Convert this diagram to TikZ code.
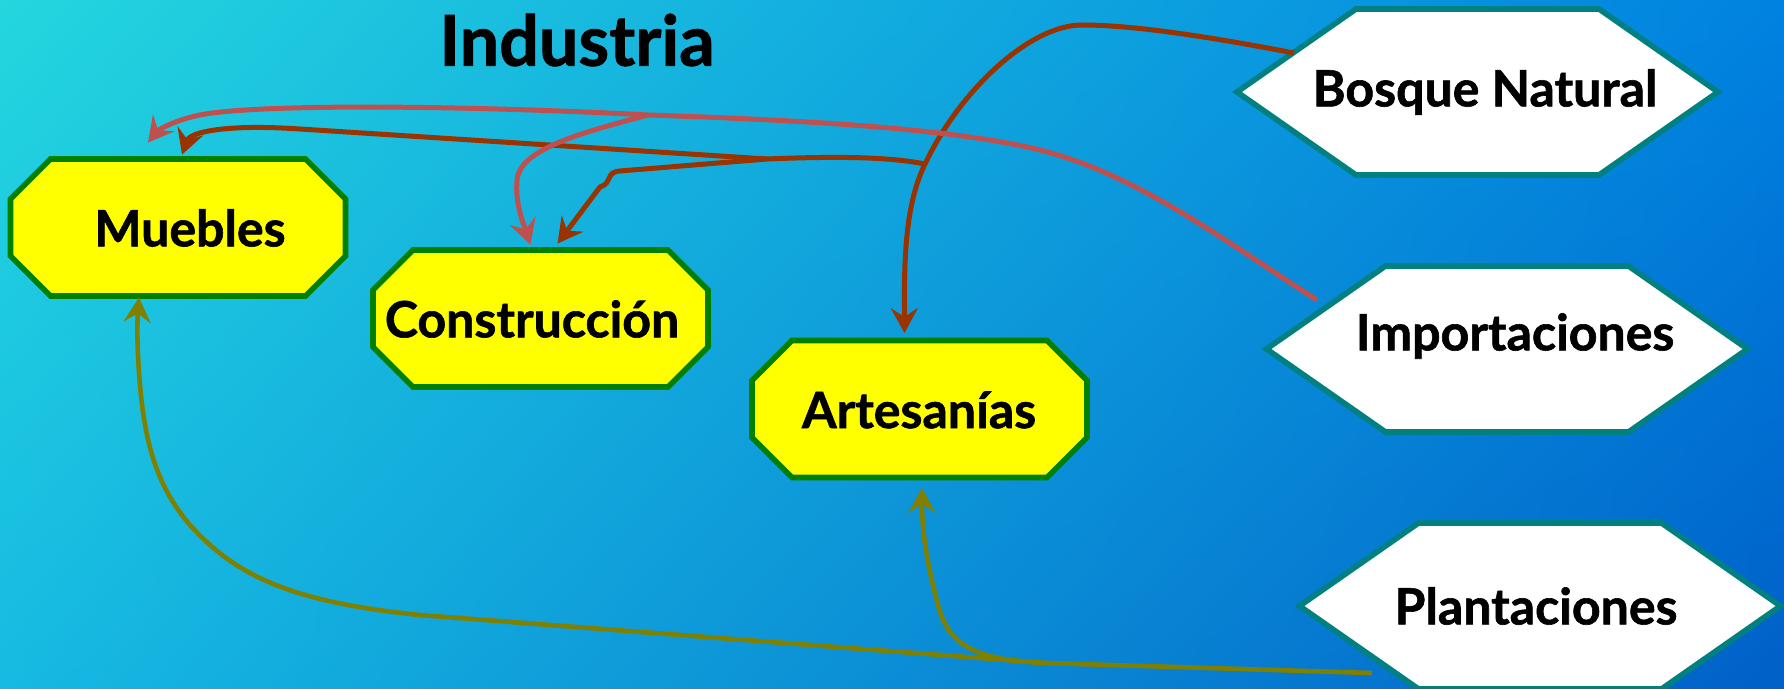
\documentclass[tikz,border=0pt]{standalone}
\usepackage{fontspec}
\setmainfont{Lato}[BoldFeatures={FakeBold=1.2}]
\usetikzlibrary{arrows.meta,calc,shadings}
\definecolor{bgTL}{RGB}{36,214,222}
\definecolor{bgTR}{RGB}{0,130,224}
\definecolor{bgBL}{RGB}{22,186,226}
\definecolor{bgBR}{RGB}{0,96,200}
\definecolor{octgreen}{RGB}{0,128,0}
\definecolor{hexteal}{RGB}{0,128,128}
\definecolor{lnbrown}{RGB}{153,51,0}
\definecolor{lnred}{RGB}{192,80,77}
\definecolor{lnolive}{RGB}{128,128,0}
\definecolor{boxyellow}{RGB}{255,255,0}
\begin{document}
\begin{tikzpicture}[x=0.5pt,y=-0.5pt,
  oct/.style={draw=octgreen, fill=boxyellow, line width=2.8pt},
  hexs/.style={draw=hexteal, fill=white, line width=2.8pt},
  lab/.style={font=\bfseries\fontsize{25}{28}\selectfont, inner sep=0pt},
  octframe/.style={minimum width=167.5pt, minimum height=68.5pt, inner sep=0pt},
  hexframe/.style={minimum width=240.5pt, minimum height=83pt, inner sep=0pt},
  tipst/.style={-{Stealth[length=12.5pt,width=13.5pt,inset=4.5pt]}},
  conB/.style={draw=lnbrown, line width=2.5pt, tipst},
  conR/.style={draw=lnred, line width=2.5pt, tipst},
  conO/.style={draw=lnolive, line width=2.3pt, tipst}
]
\useasboundingbox (0,0) rectangle (1784,689);
\shade[upper left=bgTL, upper right=bgTR, lower left=bgBL, lower right=bgBR] (0,0) rectangle (1784,689);

% title
\node[font=\bfseries\fontsize{35}{40}\selectfont, inner sep=0pt] (title) at (577,40) {Industria};

% octagons
\draw[oct, shift={(178,227.5)}] (-167.5,-28.5) -- (-127.5,-68.5) -- (127.5,-68.5) -- (167.5,-28.5) -- (167.5,28.5) -- (127.5,68.5) -- (-127.5,68.5) -- (-167.5,28.5) -- cycle;
\node[octframe] (mue) at (178,227.5) {};
\node[lab] (muet) at (190,228) {Muebles};

\draw[oct, shift={(540.5,318.5)}] (-167.5,-28.5) -- (-127.5,-68.5) -- (127.5,-68.5) -- (167.5,-28.5) -- (167.5,28.5) -- (127.5,68.5) -- (-127.5,68.5) -- (-167.5,28.5) -- cycle;
\node[octframe] (con) at (540.5,318.5) {};
\node[lab] (cont) at (532,319) {Construcción};

\draw[oct, shift={(919.5,409)}] (-167.5,-28.5) -- (-127.5,-68.5) -- (127.5,-68.5) -- (167.5,-28.5) -- (167.5,28.5) -- (127.5,68.5) -- (-127.5,68.5) -- (-167.5,28.5) -- cycle;
\node[octframe] (art) at (919.5,409) {};
\node[lab] (artt) at (919,410) {Artesanías};

% hexagons
\draw[hexs, shift={(1477.5,92)}] (-240.5,0) -- (-121.5,-83) -- (121.5,-83) -- (240.5,0) -- (121.5,83) -- (-121.5,83) -- cycle;
\node[hexframe] (bos) at (1477.5,92) {};
\node[lab] (bost) at (1485,92) {Bosque Natural};

\draw[hexs, shift={(1507,349)}] (-240.5,0) -- (-121.5,-83) -- (121.5,-83) -- (240.5,0) -- (121.5,83) -- (-121.5,83) -- cycle;
\node[hexframe] (imp) at (1507,349) {};
\node[lab] (impt) at (1515,336) {Importaciones};

\draw[hexs, shift={(1540,606)}] (-240.5,0) -- (-121.5,-83) -- (121.5,-83) -- (240.5,0) -- (121.5,83) -- (-121.5,83) -- cycle;
\node[hexframe] (pla) at (1540,606) {};
\node[lab] (plat) at (1536,606) {Plantaciones};

% connector points
\coordinate (b0) at (1294,53);
\coordinate (bA) at (925,164);
\coordinate (bB) at (767,159);
\coordinate (r0) at (1317,300);
\coordinate (rA) at (648,115);
\coordinate (p0) at (1372,673);
\coordinate (pA) at (1045,663);

% brown: Bosque Natural
\draw[conB] (b0) .. controls (1200,35) and (1130,25) .. (1082,25) .. controls (1030,25) and (960,90) .. (bA) .. controls (905,205) and (904,260) .. ($(art.north)+(-15,-7)$);
\draw[conB] (bA) .. controls (890,157) and (840,156) .. (bB) -- (620,171) .. controls (605,172) and (613,183) .. (600,187) -- ($(con.north)+(17,-6)$);
\draw[conB] (bB) -- (300,129) .. controls (225,124) and (190,132) .. ($(mue.north)+(4,-4)$);

% red: Importaciones
\draw[conR] (r0) .. controls (1230,245) and (1140,175) .. (1040,150) .. controls (950,128) and (800,120) .. (rA) .. controls (480,106) and (260,103) .. (200,115) .. controls (175,120) and (158,130) .. ($(mue.north)+(-30,-16)$);
\draw[conR] (rA) .. controls (585,132) and (520,148) .. (517,180) .. controls (515,205) and (524,225) .. ($(con.north)+(-10,-5)$);

% olive: Plantaciones
\draw[conO] (p0) -- (pA) -- (420,615) .. controls (290,602) and (235,575) .. (190,525) .. controls (158,488) and (145,445) .. (140,385) .. controls (137,350) and (137,325) .. ($(mue.south)+(-39,1)$);
\draw[conO] (pA) .. controls (975,660) and (948,645) .. (938,605) .. controls (926,560) and (922,530) .. ($(art.south)+(2.5,10)$);
\end{tikzpicture}
\end{document}
